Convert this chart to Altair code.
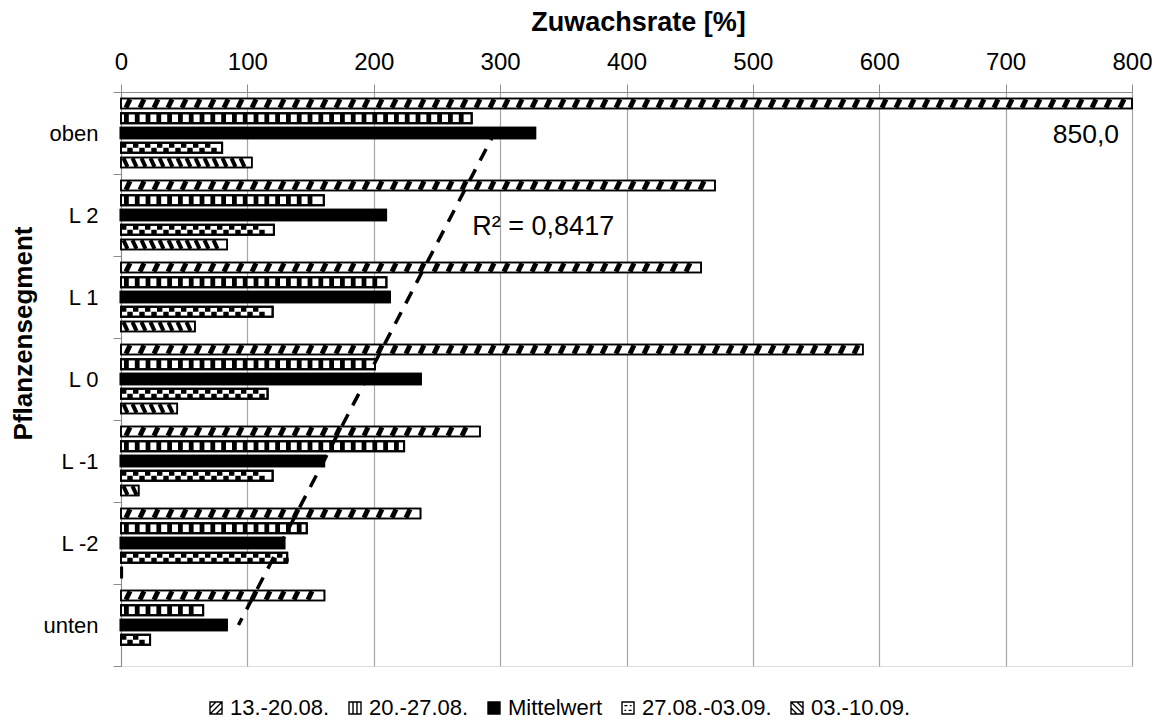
import json
import altair as alt
import pandas as pd

# ---------------- data ----------------
cats = ["oben", "L 2", "L 1", "L 0", "L -1", "L -2", "unten"]
series = ["13.-20.08.", "20.-27.08.", "Mittelwert", "27.08.-03.09.", "03.-10.09."]
v_1320 = [850.0, 470.0, 459.0, 587.0, 284.0, 237.0, 161.0]
v_2027 = [277.5, 160.5, 210.0, 201.0, 224.0, 147.0, 65.0]
v_mean = [327.5, 209.5, 212.5, 237.0, 160.5, 129.0, 83.5]
v_2703 = [80.0, 121.0, 120.0, 116.0, 120.0, 131.5, 23.0]
v_0310 = [103.5, 84.0, 58.5, 44.5, 14.0, 1.0, None]
x_ticks = [0, 100, 200, 300, 400, 500, 600, 700, 800]
r2_text = "R² = 0,8417"

rows = []
for s, vals in zip(series, [v_1320, v_2027, v_mean, v_2703, v_0310]):
    for c, v in zip(cats, vals):
        if v is not None:
            rows.append({"cat": c, "series": s, "value": v})
df = pd.DataFrame(rows)
df_mean = pd.DataFrame({"cat": cats, "value": v_mean})
df_lab = pd.DataFrame({"cat": [cats[0]], "value": [v_1320[0]],
                       "label": [f"{v_1320[0]:.1f}".replace(".", ",")]})
df_r2 = pd.DataFrame({"t": [r2_text]})
df_series = pd.DataFrame({"series": series})

# ---------------- styles ----------------
FONT = "Liberation Sans"
AX = "#8c8c8c"
W, H = 1011, 574
XMAX = 800
PX = XMAX / W  # data units per pixel

xscale = alt.Scale(domain=[0, XMAX], clamp=True, nice=False, zero=True)
xaxis = alt.Axis(orient="top", values=x_ticks, format="d", grid=True,
                 gridColor="#a6a6a6", gridWidth=1.2, domainColor=AX, tickColor=AX,
                 tickSize=8, labelFont=FONT, labelFontSize=24, labelColor="black",
                 labelPadding=10, labelFlush=False,
                 title="Zuwachsrate [%]", titleFont=FONT, titleFontSize=27,
                 titleFontWeight="bold", titleColor="black", titleY=-62,
                 titleBaseline="alphabetic", titleX=517)
yscale = alt.Scale(domain=cats, paddingInner=0, paddingOuter=0)
yaxis = alt.Axis(title="Pflanzensegment", tickBand="extent", tickSize=8,
                 domainColor=AX, tickColor=AX, grid=False,
                 labelFont=FONT, labelFontSize=22, labelColor="black", labelPadding=15,
                 titleFont=FONT, titleFontSize=26, titleFontWeight="bold",
                 titleColor="black", titleAngle=-90, titleX=-90, titleY=241,
                 titleBaseline="alphabetic", titleAlign="center")
yoff = alt.YOffset("series:N", sort=series,
                   scale=alt.Scale(domain=series, paddingInner=0.32, paddingOuter=0.44))


def X(field):
    return alt.X(f"{field}:Q", scale=xscale, axis=xaxis)


Y = alt.Y("cat:N", sort=cats, scale=yscale, axis=yaxis)

# per-series bar style (fill, border width)
bar_style = {
    "13.-20.08.": ("white", 1.6),
    "20.-27.08.": ("white", 2.0),
    "Mittelwert": ("black", 2.6),
    "27.08.-03.09.": ("white", 2.0),
    "03.-10.09.": ("white", 1.6),
}

bar_layers = []
outline_layers = []
for s, (fill, sw) in bar_style.items():
    sub = alt.Chart(df).transform_filter(alt.datum.series == s)
    bar_layers.append(sub.mark_bar(fill=fill, stroke="black", strokeWidth=sw, opacity=1)
                      .encode(x=X("value"), y=Y, yOffset=yoff))
    outline_layers.append(sub.mark_bar(fill="transparent", stroke="black", strokeWidth=sw)
                          .encode(x=X("value"), y=Y, yOffset=yoff))

patterns = {
    "13.-20.08.": dict(step=14.0, shape="M-0.45,0.95L0.45,-0.95", size=81, sw=5.0, filled=False),
    "20.-27.08.": dict(step=10.8, shape="M0,-0.95L0,0.95", size=81, sw=4.8, filled=False),
    "27.08.-03.09.": dict(step=12.0, shape="M-1,-0.7H-0.1V-0.02H-1ZM0.05,0.02H0.95V0.7H0.05Z",
                          size=144, sw=0, filled=True),
    "03.-10.09.": dict(step=9.0, shape="M-0.45,-0.95L0.45,0.95", size=81, sw=4.0, filled=False),
}


def pattern_layer(s, p):
    st = p["step"] * PX
    expr = f"sequence({st / 2:.4f}, min(datum.value, {XMAX}) - {st / 3:.4f}, {st:.4f})"
    base = (alt.Chart(df).transform_filter(alt.datum.series == s)
            .transform_calculate(pos=expr).transform_flatten(["pos"]))
    if p["filled"]:
        m = base.mark_point(shape=p["shape"], size=p["size"], filled=True,
                            color="black", opacity=1, strokeWidth=0)
    else:
        m = base.mark_point(shape=p["shape"], size=p["size"], filled=False,
                            color="black", opacity=1, strokeWidth=p["sw"], strokeCap="butt")
    return m.encode(x=X("pos"), y=Y, yOffset=yoff)


pattern_layers = [pattern_layer(s, p) for s, p in patterns.items()]

cat_lit = json.dumps(cats)
trend = (alt.Chart(df_mean)
         .transform_calculate(idx=f"indexof({cat_lit}, datum.cat)")
         .transform_regression("idx", "value")
         .transform_calculate(cat=f"{cat_lit}[round(datum.idx)]")
         .mark_line(color="black", strokeWidth=3.5, strokeDash=[13, 10], strokeDashOffset=5)
         .encode(x=X("value"), y=Y))

lab850 = alt.Chart(df_lab).mark_text(align="right", baseline="middle", dx=-13, dy=2,
                                     font=FONT, fontSize=26.5, color="black").encode(
    x=X("value"), y=Y, text="label:N")

r2 = alt.Chart(df_r2).mark_text(align="left", baseline="middle", dy=12,
                                font=FONT, fontSize=27, color="black").encode(
    x=alt.datum(278, scale=xscale, axis=xaxis), y=alt.datum("L 2"), text="t:N")

legend_paths = [
    "M-1,-1H1V1H-1ZM-1,0L0,-1M-1,1L1,-1M0,1L1,0",
    "M-1,-1H1V1H-1ZM-0.33,-1V1M0.33,-1V1",
    "M-1,-1H1V1H-1ZM-1,-0.75H1M-1,-0.5H1M-1,-0.25H1M-1,0H1M-1,0.25H1M-1,0.5H1M-1,0.75H1",
    "M-1,-1H1V1H-1ZM-0.6,-0.4H-0.1M0.1,0.4H0.6M-0.6,0.4H-0.3M0.3,-0.4H0.6",
    "M-1,-1H1V1H-1ZM-1,0L0,1M-1,-1L1,1M0,-1L1,0",
]
legend_layer = alt.Chart(df_series).mark_point(
    filled=False, color="black", opacity=0, strokeWidth=1.3).encode(
    x=alt.datum(0, scale=xscale, axis=xaxis), y=alt.datum(cats[0]),
    shape=alt.Shape("series:N", sort=series,
                    scale=alt.Scale(domain=series, range=legend_paths),
                    legend=alt.Legend(title=None, orient="none", legendX=84, legendY=605,
                                      direction="horizontal", columns=5,
                                      labelFont=FONT, labelFontSize=22, labelColor="black",
                                      symbolSize=144, symbolStrokeWidth=1.4,
                                      symbolStrokeColor="black", symbolFillColor="white",
                                      symbolOpacity=1,
                                      columnPadding=14, labelOffset=3, padding=0)),
)

chart = alt.layer(*bar_layers, *pattern_layers, *outline_layers, trend, lab850, r2,
                  legend_layer).properties(
    width=W, height=H,
    autosize=alt.AutoSizeParams(type="none"),
    padding={"left": 113, "top": 84, "right": 20, "bottom": 53},
).configure_view(strokeWidth=0).configure(background="white")

chart.save("out.html", embed_options={"renderer": "svg", "actions": False})
